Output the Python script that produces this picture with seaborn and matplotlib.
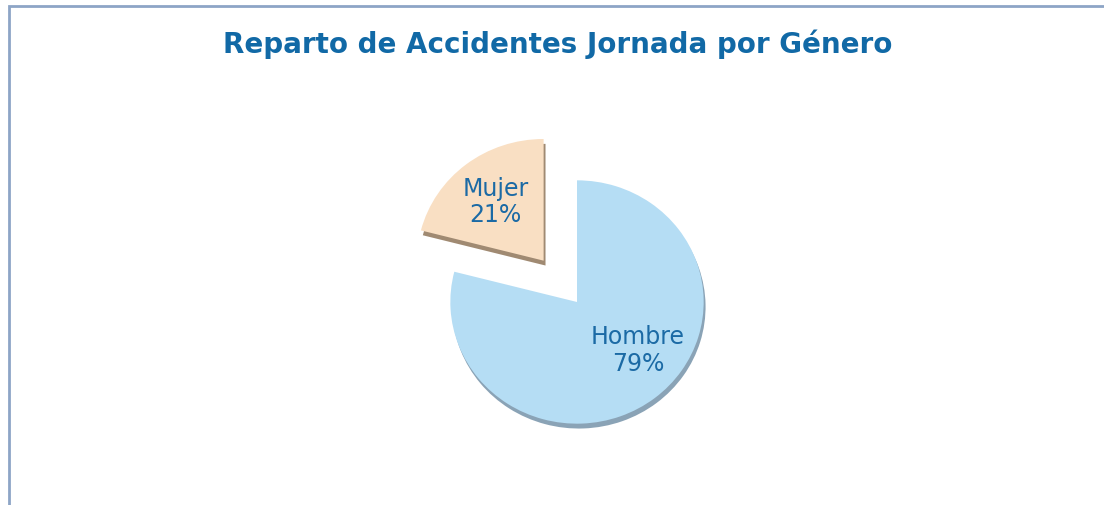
"""
Pie chart: share of workday accidents by gender.
"""

import matplotlib
matplotlib.use("Agg")
import matplotlib.pyplot as plt
import matplotlib.patches as mpatches
import numpy as np
import seaborn as sns

# -------------------------------------------------------
# Data
# -------------------------------------------------------
categories = ["Hombre", "Mujer"]
shares = [79, 21]
colors = ["#B5DDF4", "#F9DFC3"]
side_colors = ["#8AA3B6", "#A08A72"]
explode = [0.0, 0.43]
title = "Reparto de Accidentes Jornada por Género"

sns.set_theme(style="white")
plt.rcParams["font.family"] = ["DejaVu Sans"]

W, H = 1104, 506
fig = plt.figure(figsize=(W / 100, H / 100), dpi=100)
fig.patch.set_facecolor("white")

# chart frame (top and left edges visible)
fig.add_artist(mpatches.Rectangle((9 / W, -0.2), 1.5, 1.2 - 7 / H,
                                  transform=fig.transFigure, fill=False,
                                  edgecolor="#8DA5C6", linewidth=2))

# pie centre ~ (577, 303) px, radius ~ 127 x 122 px
cx, cy = 577, 303
hw, hh = 152, 146
ax = fig.add_axes([(cx - hw) / W, (H - cy - hh) / H, 2 * hw / W, 2 * hh / H])

# thickness / bevel: darker copy shifted downward
ax.pie(shares, colors=side_colors, startangle=90, counterclock=False,
       explode=explode, center=(0.015, -0.04),
       wedgeprops={"linewidth": 0})

labels_fmt = iter(categories)
wedges, texts, autotexts = ax.pie(
    shares, colors=colors, startangle=90, counterclock=False,
    explode=explode,
    autopct=lambda p: f"{next(labels_fmt)}\n{p:.0f}%",
    pctdistance=0.62,
    textprops={"color": "#1B6AA5", "fontsize": 17, "linespacing": 1.15},
    wedgeprops={"linewidth": 0})

# Excel places the big slice label a bit closer to the right side
ang = np.deg2rad(-39)
autotexts[0].set_position((0.62 * np.cos(ang), 0.62 * np.sin(ang)))

ax.set_xlim(-1.2, 1.2)
ax.set_ylim(-1.2, 1.2)
ax.set_aspect("auto")
ax.axis("off")

fig.text(0.505, 1 - 44 / H, title, ha="center", va="center",
         fontsize=20, fontweight="bold", color="#1169A6")

fig.savefig("out.png", dpi=100, facecolor="white")
